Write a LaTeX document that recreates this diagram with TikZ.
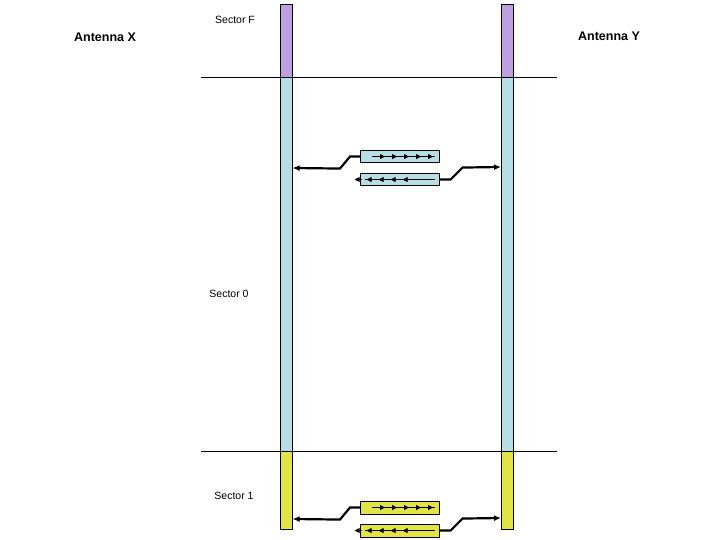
\documentclass[tikz,border=0pt]{standalone}
\usepackage{fontspec}
\setmainfont{Liberation Sans}
\usetikzlibrary{arrows.meta}
\definecolor{pur}{RGB}{190,160,225}
\definecolor{lb}{RGB}{183,222,228}
\definecolor{yl}{RGB}{226,228,70}
\tikzset{
 bar/.style={draw=black,line width=0.6pt,minimum width=12pt,inner sep=0pt,anchor=north west},
 pkt/.style={draw=black,line width=0.6pt,minimum width=79pt,minimum height=12.5pt,inner sep=0pt,anchor=north west},
 link/.style={line width=2.2pt,-{Latex[length=7pt,width=6pt]}},
 lbl/.style={font=\fontsize{10.5}{12}\selectfont,anchor=center},
 ant/.style={font=\bfseries\fontsize{12.5}{14}\selectfont,anchor=center},
 tip/.style={line width=0.9pt,-{Triangle[length=5pt,width=5pt]}}
}
\begin{document}
\begin{tikzpicture}[x=1pt,y=-1pt]
\useasboundingbox (0,0) rectangle (720,540);
% bars
\node[bar,fill=pur,minimum height=73pt] (lf) at (280,4) {};
\node[bar,fill=lb,minimum height=374pt] (l0) at (280,77) {};
\node[bar,fill=yl,minimum height=78pt] (l1) at (280,451) {};
\node[bar,fill=pur,minimum height=73pt] (rf) at (501,4) {};
\node[bar,fill=lb,minimum height=374pt] (r0) at (501,77) {};
\node[bar,fill=yl,minimum height=78pt] (r1) at (501,451) {};
% separators
\coordinate (s1a) at (201,77); \coordinate (s1b) at (557,77);
\coordinate (s2a) at (201,451); \coordinate (s2b) at (557,451);
\draw[line width=0.5pt] (s1a) -- (s1b);
\draw[line width=0.5pt] (s2a) -- (s2b);
% labels
\node[ant] (ax) at (105,37) {Antenna X};
\node[ant] (ay) at (609,36) {Antenna Y};
\node[lbl] (sf) at (235,20) {Sector F};
\node[lbl] (s0) at (229,294) {Sector 0};
\node[lbl] (s1) at (234,496) {Sector 1};
% packets
\foreach \c/\n/\y in {lb/a/150, yl/c/501}{
  \node[pkt,fill=\c] (\n1) at (360,\y) {};
  \node[pkt,fill=\c] (\n2) at (360,\y+23) {};
  \draw[line width=0.9pt] ([xshift=12]\n1.west) -- ([xshift=-5]\n1.east);
  \foreach \k in {0,...,4}
    \draw[tip] ([xshift=18+12*\k]\n1.west) -- ([xshift=25+12*\k]\n1.west);
  \draw[line width=0.9pt] ([xshift=5]\n2.west) -- ([xshift=-5]\n2.east);
  \foreach \k in {0,...,4}
    \draw[tip] ([xshift=-30-12*\k]\n2.east) -- ([xshift=-37-12*\k]\n2.east);
}
\draw[link] (a1.west) -- ++(-10,0) -- ++(-10,12) -- (l0.east |- 0,168);
\draw[link] (a2.east) -- ++(11,0) -- ++(12,-12) -- (r0.west |- 0,167);
\draw[link] (c1.west) -- ++(-10,0) -- ++(-10,12) -- (l1.east |- 0,519);
\draw[link] (c2.east) -- ++(11,0) -- ++(12,-12) -- (r1.west |- 0,518);
\end{tikzpicture}
\end{document}
